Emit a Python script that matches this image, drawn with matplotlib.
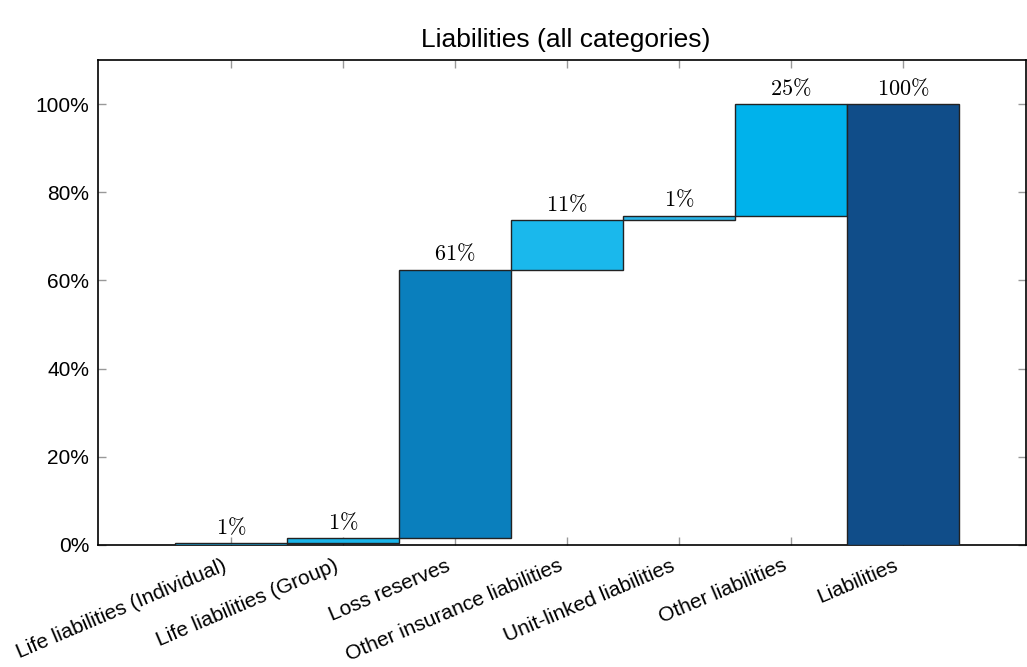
import matplotlib
matplotlib.use("Agg")
import matplotlib.pyplot as plt
import matplotlib.transforms as mtransforms
import numpy as np

categories = ["Life liabilities (Individual)", "Life liabilities (Group)", "Loss reserves",
              "Other insurance liabilities", "Unit-linked liabilities", "Other liabilities",
              "Liabilities"]
values = [0.4, 1.1, 60.9, 11.3, 1.0, 25.3]
total = 100.0
bar_labels = ["1%", "1%", "61%", "11%", "1%", "25%", "100%"]
colors = ["#1aa6dc", "#1ab5ea", "#0a7fbd", "#1ab8ec", "#29b5e8", "#00b2eb", "#104d89"]
yticks = [0, 20, 40, 60, 80, 100]

plt.rcParams['font.family'] = ['Liberation Sans', 'DejaVu Sans']
plt.rcParams['mathtext.fontset'] = 'cm'

fig = plt.figure(figsize=(10.27, 6.67), dpi=100)
ax = fig.add_axes([97.5/1027, 1-545/667, (1026-97.5)/1027, (545-60)/667])

x = np.arange(len(categories))
bottoms = list(np.concatenate([[0], np.cumsum(values)[:-1]])) + [0]
heights = values + [total]
ax.bar(x, heights, bottom=bottoms, width=1.0, color=colors,
       edgecolor="#222222", linewidth=1.0, zorder=3)

for xi, b, h, lab in zip(x, bottoms, heights, bar_labels):
    ax.text(xi, b + h + 1.0, lab.replace('%', r'\%').join(['$', '$']),
            ha='center', va='bottom', fontsize=16, zorder=4)

ax.set_xlim(-1.19, 7.1)
ax.set_ylim(0, 110)
ax.set_yticks(yticks)
ax.set_yticklabels([f"{v}%" for v in yticks], fontsize=15)
ax.set_xticks(x)
ax.set_xticklabels(categories, rotation=23, ha='right', rotation_mode='anchor', fontsize=15)
ax.tick_params(axis='both', direction='in', length=6, color='#999999', width=1,
               top=True, right=True, pad=6)
ax.tick_params(axis='x', pad=8)
offset = mtransforms.ScaledTranslation(-9/100, 0, fig.dpi_scale_trans)
for lbl in ax.get_xticklabels():
    lbl.set_transform(lbl.get_transform() + offset)
for s in ax.spines.values():
    s.set_linewidth(1.2)
    s.set_color('black')

fig.text(566/1027, 1-40/667, "Liabilities (all categories)", ha='center', va='center', fontsize=19)

fig.savefig("out.png", dpi=100)
